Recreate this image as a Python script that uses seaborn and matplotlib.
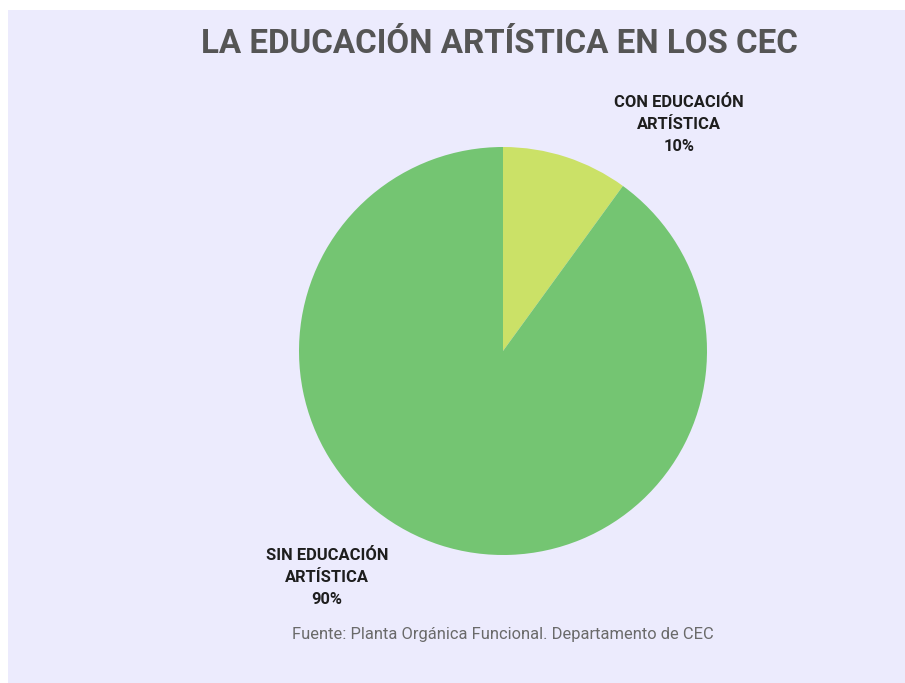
import matplotlib
matplotlib.use("Agg")
import matplotlib.pyplot as plt
from matplotlib.patches import Rectangle
import seaborn as sns

# data
categories = ["CON EDUCACIÓN\nARTÍSTICA", "SIN EDUCACIÓN\nARTÍSTICA"]
shares = [10, 90]
slice_colors = ["#CBE167", "#74C572"]
title = "LA EDUCACIÓN ARTÍSTICA EN LOS CEC"
source = "Fuente: Planta Orgánica Funcional. Departamento de CEC"

sns.set_theme(style="white")
plt.rcParams["font.family"] = ["Roboto", "DejaVu Sans"]

W, H = 905, 683
fig = plt.figure(figsize=(W / 100, H / 100), dpi=100, facecolor="white")
# lavender panel (thin white strip on top and left)
fig.add_artist(Rectangle((8 / W, 0), 1 - 8 / W, 1 - 10 / H,
                         transform=fig.transFigure, facecolor="#ECEBFD",
                         edgecolor="none", zorder=0))

cx, cy, r = 503, 351, 204
ax = fig.add_axes([(cx - r) / W, (H - cy - r) / H, 2 * r / W, 2 * r / H])
ax.set_facecolor("none")
ax.pie(shares, colors=slice_colors, startangle=90, counterclock=False,
       wedgeprops=dict(edgecolor="none"))
ax.set_xlim(-1, 1)
ax.set_ylim(-1, 1)
ax.axis("off")

# outside labels, placed symmetrically as in the original
label_pos = [(0.863, 1.11), (-0.863, -1.11)]
for cat, val, (lx, ly) in zip(categories, shares, label_pos):
    ax.text(lx, ly, f"{cat}\n{val}%", ha="center", va="center",
            fontsize=11.9, fontweight="bold", color="#1E1E1E",
            linespacing=1.58, clip_on=False)

fig.text(499 / W, 1 - 44 / H, title, ha="center", va="center",
         fontsize=23.9, fontweight="bold", color="#555555")
fig.text(503 / W, 1 - 634 / H, source, ha="center", va="center",
         fontsize=11.9, color="#6A6A6A")

fig.savefig("out.png", dpi=100, facecolor=fig.get_facecolor())
